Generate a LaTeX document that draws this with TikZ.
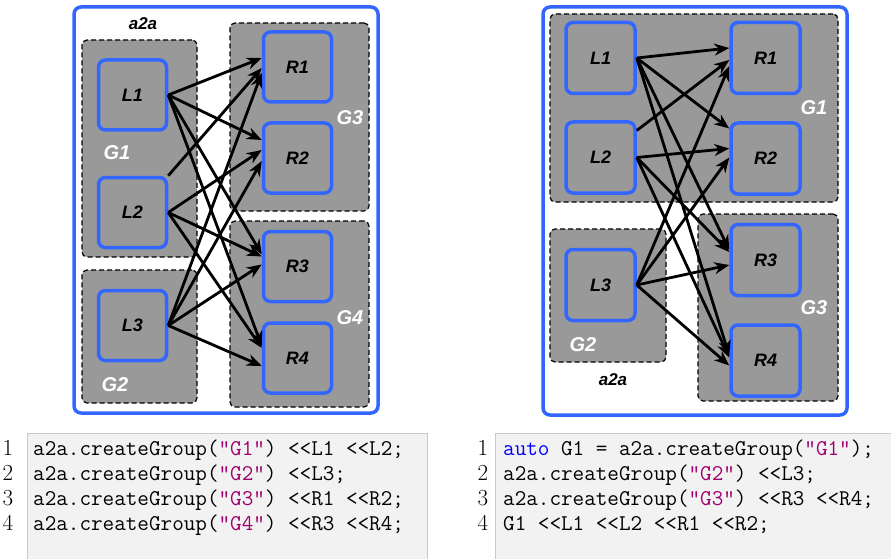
\documentclass[tikz,border=0pt]{standalone}
\usepackage{fontspec}
\setmonofont{Latin Modern Mono}
\newfontfamily\labfont{Liberation Sans}
\usetikzlibrary{arrows.meta,calc}
\definecolor{boxblue}{RGB}{51,102,255}
\definecolor{grpgray}{RGB}{153,153,153}
\definecolor{codebg}{RGB}{242,242,242}
\definecolor{codeframe}{RGB}{200,200,200}
\definecolor{kwblue}{RGB}{0,0,255}
\definecolor{strmag}{RGB}{160,0,110}
\tikzset{
  outerbox/.style={draw=boxblue, line width=3.5pt, rounded corners=7pt, fill=white},
  grp/.style={draw=black, dash pattern=on 5pt off 3pt, fill=grpgray, line width=1.2pt, rounded corners=5pt, inner sep=0pt},
  item/.style={draw=boxblue, fill=grpgray, line width=3.5pt, rounded corners=7pt, minimum width=68pt, minimum height=70pt, inner sep=0pt, font=\labfont\bfseries\itshape\fontsize{18}{18}\selectfont},
  glabel/.style={text=white, font=\labfont\bfseries\itshape\fontsize{20}{20}\selectfont, inner sep=0pt},
  ttl/.style={font=\labfont\bfseries\itshape\fontsize{17}{17}\selectfont, inner sep=0pt},
  conn/.style={-{Stealth[length=15pt,width=12pt]}, line width=2.8pt},
  codeln/.style={font=\ttfamily\fontsize{22.5}{25}\selectfont, anchor=base west, inner sep=0pt},
  lnum/.style={font=\rmfamily\fontsize{23}{25}\selectfont, anchor=base, inner sep=0pt},
}
\begin{document}
\begin{tikzpicture}[x=1pt,y=-1pt]
\useasboundingbox (0,0) rectangle (891,559);

% ---------- left diagram ----------
\draw[outerbox] (74,7) rectangle (378,413);
\node[ttl] (lt) at (143,24) {a2a};
\node[grp, minimum width=115pt, minimum height=217pt] (lG1) at (139.5,148.5) {};
\node[grp, minimum width=115pt, minimum height=133pt] (lG2) at (139.5,336.5) {};
\node[grp, minimum width=139pt, minimum height=188pt] (lG3) at (299.5,117) {};
\node[grp, minimum width=139pt, minimum height=186pt] (lG4) at (299.5,314) {};
\node[item] (lL1) at (132.5,95) {L1};
\node[item] (lL2) at (132.5,212.5) {L2};
\node[item] (lL3) at (132.5,325.5) {L3};
\node[item] (lR1) at (297.5,67) {R1};
\node[item] (lR2) at (297.5,158) {R2};
\node[item] (lR3) at (297.5,266.5) {R3};
\node[item] (lR4) at (297.5,358) {R4};
\node[glabel] (lg1) at (117,153) {G1};
\node[glabel] (lg2) at (115,385) {G2};
\node[glabel] (lg3) at (350,118) {G3};
\node[glabel] (lg4) at (350,318) {G4};

\draw[conn] (lL1.east) -- ($(lR1.west)+(0,-9)$);
\draw[conn] (lL1.east) -- ($(lR2.west)+(0,-18)$);
\draw[conn] (lL1.east) -- ($(lR3.west)+(0,-12)$);
\draw[conn] (lL1.east) -- ($(lR4.west)+(0,-12)$);
\draw[conn] (lL2.north east) -- ($(lR1.west)+(0,1)$);
\draw[conn] (lL2.east) -- ($(lR2.west)+(0,-8)$);
\draw[conn] (lL2.east) -- ($(lR3.west)+(0,-10)$);
\draw[conn] (lL2.east) -- ($(lR4.west)+(0,-10)$);
\draw[conn] (lL3.east) -- ($(lR1.west)+(0,6)$);
\draw[conn] (lL3.east) -- ($(lR2.west)+(0,3)$);
\draw[conn] (lL3.east) -- ($(lR3.west)+(0,-2)$);
\draw[conn] (lL3.east) -- ($(lR4.west)+(0,8)$);

% ---------- right diagram ----------
\draw[outerbox] (543,7) rectangle (847,415);
\node[grp, minimum width=288pt, minimum height=188pt] (rG1) at (694,108) {};
\node[grp, minimum width=116pt, minimum height=133pt] (rG2) at (608,295.5) {};
\node[grp, minimum width=140pt, minimum height=187pt] (rG3) at (768,307.5) {};
\node[item, minimum width=69pt, minimum height=71pt] (rL1) at (600.5,58) {L1};
\node[item, minimum width=69pt, minimum height=71pt] (rL2) at (600.5,157.5) {L2};
\node[item, minimum width=69pt, minimum height=71pt] (rL3) at (600.5,285) {L3};
\node[item, minimum width=69pt, minimum height=71pt] (rR1) at (765.5,58) {R1};
\node[item, minimum width=69pt, minimum height=71pt] (rR2) at (765.5,158.5) {R2};
\node[item, minimum width=69pt, minimum height=71pt] (rR3) at (765.5,260) {R3};
\node[item, minimum width=69pt, minimum height=71pt] (rR4) at (765.5,360.5) {R4};
\node[glabel] (rg1) at (814,108) {G1};
\node[glabel] (rg2) at (583,345) {G2};
\node[glabel] (rg3) at (814,308) {G3};
\node[ttl] (rt) at (613,380) {a2a};

\draw[conn] (rL1.east) -- ($(rR1.west)+(0,-10)$);
\draw[conn] (rL1.east) -- ($(rR2.west)+(0,-30)$);
\draw[conn] (rL1.east) -- ($(rR3.west)+(0,-10)$);
\draw[conn] (rL1.east) -- ($(rR4.west)+(0,-5)$);
\draw[conn] ($(rL2.east)+(0,-27)$) -- ($(rR1.west)+(0,2)$);
\draw[conn] (rL2.east) -- ($(rR2.west)+(0,-10)$);
\draw[conn] (rL2.east) -- ($(rR3.west)+(0,-8)$);
\draw[conn] (rL2.east) -- ($(rR4.west)+(0,-3)$);
\draw[conn] (rL3.east) -- ($(rR1.west)+(0,8)$);
\draw[conn] (rL3.east) -- ($(rR2.west)+(0,-1)$);
\draw[conn] (rL3.east) -- ($(rR3.west)+(0,5)$);
\draw[conn] (rL3.east) -- ($(rR4.west)+(0,5)$);

% ---------- code listings ----------
\fill[codebg] (27,433) rectangle (427,560);
\draw[codeframe, line width=1pt] (27,560) -- (27,433) -- (427,433) -- (427,560);
\node[lnum] (ln1) at (8,455) {1};
\node[lnum] (ln2) at (8,480) {2};
\node[lnum] (ln3) at (8,505) {3};
\node[lnum] (ln4) at (8,530) {4};
\node[codeln] (lc1) at (33,455) {a2a.createGroup(\textcolor{strmag}{"G1"}) <{}<L1 <{}<L2;};
\node[codeln] (lc2) at (33,480) {a2a.createGroup(\textcolor{strmag}{"G2"}) <{}<L3;};
\node[codeln] (lc3) at (33,505) {a2a.createGroup(\textcolor{strmag}{"G3"}) <{}<R1 <{}<R2;};
\node[codeln] (lc4) at (33,530) {a2a.createGroup(\textcolor{strmag}{"G4"}) <{}<R3 <{}<R4;};

\fill[codebg] (495,433) rectangle (892,560);
\draw[codeframe, line width=1pt] (495,560) -- (495,433) -- (892,433);
\node[lnum] (rn1) at (483,455) {1};
\node[lnum] (rn2) at (483,480) {2};
\node[lnum] (rn3) at (483,505) {3};
\node[lnum] (rn4) at (483,530) {4};
\node[codeln] (rc1) at (503,455) {\textcolor{kwblue}{auto} G1 = a2a.createGroup(\textcolor{strmag}{"G1"});};
\node[codeln] (rc2) at (503,480) {a2a.createGroup(\textcolor{strmag}{"G2"}) <{}<L3;};
\node[codeln] (rc3) at (503,505) {a2a.createGroup(\textcolor{strmag}{"G3"}) <{}<R3 <{}<R4;};
\node[codeln] (rc4) at (503,530) {G1 <{}<L1 <{}<L2 <{}<R1 <{}<R2;};
\end{tikzpicture}
\end{document}
